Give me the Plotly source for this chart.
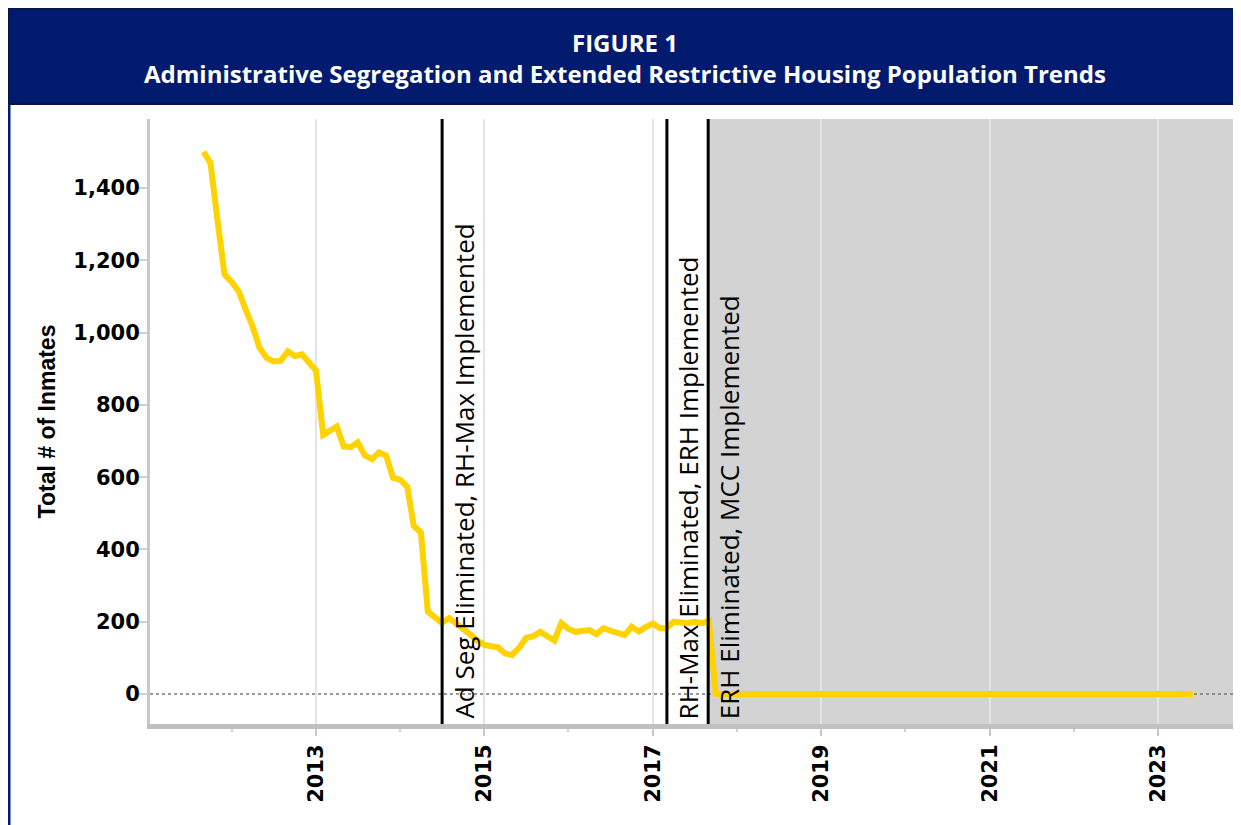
import pandas as pd
import plotly.graph_objects as go

# monthly population, Sep 2011 onward
start_month = "2011-09-01"
inmates_active = [
    1500, 1470, 1310, 1161, 1140, 1114, 1065, 1017, 958, 930, 920, 922,
    948, 935, 940, 918, 895, 717, 728, 740, 685, 683, 696, 660,
    650, 668, 660, 598, 593, 573, 465, 447, 228, 212, 197, 210,
    196, 184, 165, 148, 136, 132, 129, 112, 108, 128, 155, 160,
    172, 160, 148, 196, 180, 172, 175, 177, 166, 182, 175, 168,
    163, 186, 173, 185, 195, 182, 182, 200, 196, 196, 200, 196,
    202,
]
inmates_after = [
    0, 0, 0, 0, 0, 0, 0, 0, 0, 0, 0, 0,
    0, 0, 0, 0, 0, 0, 0, 0, 0, 0, 0, 0,
    0, 0, 0, 0, 0, 0, 0, 0, 0, 0, 0, 0,
    0, 0, 0, 0, 0, 0, 0, 0, 0, 0, 0, 0,
    0, 0, 0, 0, 0, 0, 0, 0, 0, 0, 0, 0,
    0, 0, 0, 0, 0, 0, 0, 0, 0,
]
inmates = inmates_active + inmates_after
months = pd.date_range(start_month, periods=len(inmates), freq="MS")

# policy events
event_dates = ["2014-07-02", "2017-03-03", "2017-08-29"]
event_labels = [
    "Ad Seg Eliminated, RH-Max Implemented",
    "RH-Max Eliminated, ERH Implemented",
    "ERH Eliminated, MCC Implemented",
]

NAVY = "#021b6e"
GOLD = "#ffd200"

fig = go.Figure()
fig.add_trace(go.Scatter(x=months, y=inmates, mode="lines",
                         line=dict(color=GOLD, width=6), hoverinfo="x+y"))

shapes = []
# gray shading after last event
shapes.append(dict(type="rect", xref="x", yref="paper", x0=event_dates[2], x1="2024-06-01",
                   y0=0, y1=1, fillcolor="#d3d3d3", line_width=0, layer="below"))
# dotted zero line
shapes.append(dict(type="line", xref="paper", yref="y", x0=0, x1=1, y0=0, y1=0,
                   line=dict(color="#777777", width=1.5, dash="dot"), layer="below"))
for d in event_dates:
    shapes.append(dict(type="line", xref="x", yref="paper", x0=d, x1=d, y0=0, y1=1,
                       line=dict(color="black", width=3)))

# page body adds 8px, so figure is 8px smaller than the window
W, H = 1233, 817
ml, mr, mt, mb = 142, 0, 111, 101
pw, ph = W - ml - mr, H - mt - mb
def px(xp):
    return (xp - ml) / pw
def py(yp):
    return (H - mb - yp) / ph
# banner + left frame
shapes.append(dict(type="rect", xref="paper", yref="paper", x0=px(0), x1=px(1240),
                   y0=py(96), y1=py(0), fillcolor=NAVY, line=dict(color="#0a1240", width=2)))
shapes.append(dict(type="line", xref="paper", yref="paper", x0=px(1), x1=px(1),
                   y0=py(96), y1=py(830), line=dict(color=NAVY, width=3)))

annotations = []
for d, t in zip(event_dates, event_labels):
    annotations.append(dict(x=d, y=0, xref="x", yref="paper", text=t, textangle=-90,
                            showarrow=False, xanchor="left", yanchor="bottom",
                            xshift=1, yshift=3,
                            font=dict(family="Open Sans", size=26, color="black", weight=500)))
annotations.append(dict(x=px(617), y=py(50), xref="paper", yref="paper",
                        xanchor="center", yanchor="middle",
                        text="<b>FIGURE 1</b><br><b>Administrative Segregation and Extended Restrictive Housing Population Trends</b>",
                        showarrow=False, font=dict(family="Open Sans", size=24, color="white")))

fig.update_layout(
    width=W, height=H,
    margin=dict(l=ml, r=mr, t=mt, b=mb),
    paper_bgcolor="white", plot_bgcolor="white",
    showlegend=False,
    shapes=shapes, annotations=annotations,
    xaxis=dict(
        range=["2011-01-12", "2023-12-27"], type="date",
        tick0="2013-01-01", dtick="M24", tickformat="%Y", tickangle=-90,
        showgrid=True, gridcolor="#e4e4e4", gridwidth=1.5,
        showline=True, linecolor="#c0c0c0", linewidth=5,
        ticks="outside", ticklen=7, tickcolor="#c8c8c8", tickwidth=1.5,
        minor=dict(dtick="M12", ticks="outside", ticklen=3, tickcolor="#d0d0d0", showgrid=False),
        tickfont=dict(family="DejaVu Sans", size=21, color="black", weight="bold"),
        zeroline=False,
    ),
    yaxis=dict(
        range=[-83, 1591],
        tickvals=[0, 200, 400, 600, 800, 1000, 1200, 1400], tickformat=",",
        showgrid=False, zeroline=False,
        showline=True, linecolor="#c8c8c8", linewidth=3,
        ticks="outside", ticklen=8, tickcolor="#d0d0d0", tickwidth=1.5,
        ticklabelstandoff=-5,
        tickfont=dict(family="DejaVu Sans", size=21, color="black", weight="bold"),
        title=dict(text="<b>Total # of Inmates</b>", standoff=12,
                   font=dict(family="Liberation Sans", size=23, color="black")),
    ),
)

fig.write_html("out.html")
